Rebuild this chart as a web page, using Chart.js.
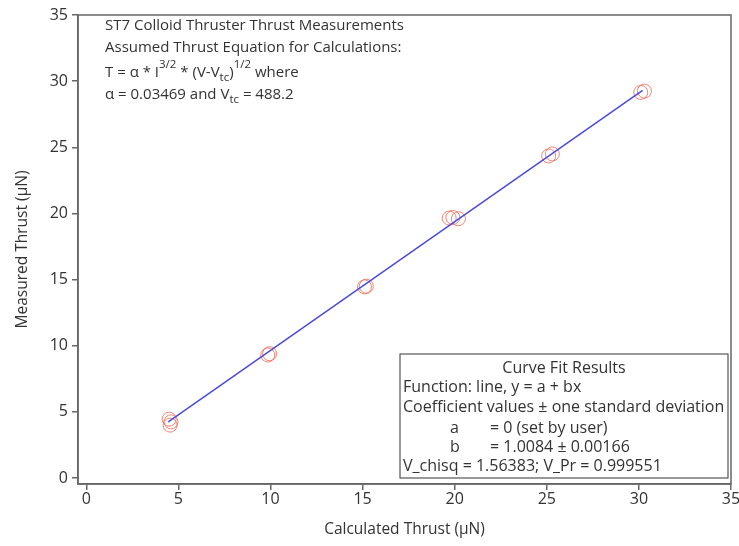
<!DOCTYPE html>
<html>
<head>
<meta charset="utf-8">
<script src="https://cdn.jsdelivr.net/npm/chart.js@4"></script>
<style>
  html, body { margin: 0; padding: 0; background: #fff; }
  #wrap { width: 739px; height: 546px; }
</style>
</head>
<body>
<div id="wrap"><canvas id="thrustChart"></canvas></div>
<script>
// measured points (calculated thrust, measured thrust) in uN
const calcThrust = [4.5, 4.55, 4.6, 9.85, 9.95, 15.1, 15.2, 19.7, 19.9, 20.2, 25.1, 25.3, 30.1, 30.3];
const measThrust = [4.45, 4.0, 4.25, 9.3, 9.4, 14.45, 14.5, 19.65, 19.7, 19.6, 24.35, 24.5, 29.15, 29.25];
// fitted line end points
const fitX = [4.45, 30.2];
const fitY = [4.25, 29.3];
const tickValues = [0, 5, 10, 15, 20, 25, 30, 35];

const FONT = "'Open Sans', 'Lucida Grande', sans-serif";
const textColor = "#333";
const axisColor = "#666";

const framePlugin = {
  id: "frame",
  afterDraw(chart) {
    const { ctx, chartArea: { top, bottom, left, right } } = chart;
    ctx.save();
    ctx.strokeStyle = axisColor;
    ctx.lineWidth = 1.5;
    ctx.strokeRect(left, top, right - left, bottom - top);
    ctx.restore();
  },
};

const notesPlugin = {
  id: "notes",
  afterDraw(chart) {
    const { ctx, chartArea: { top, left } } = chart;
    ctx.save();
    ctx.fillStyle = textColor;
    ctx.textBaseline = "alphabetic";
    ctx.textAlign = "left";

    // helper for text runs with super/subscripts
    function runs(x, y, parts) {
      parts.forEach((p) => {
        const size = p.small ? 11.5 : 15;
        ctx.font = `${size}px ${FONT}`;
        const dy = p.sup ? -9 : p.sub ? 4 : 0;
        ctx.fillText(p.t, x, y + dy);
        x += ctx.measureText(p.t).width;
      });
    }

    const x0 = left + 27;
    ctx.font = `15px ${FONT}`;
    ctx.fillText("ST7 Colloid Thruster Thrust Measurements", x0, top + 15);
    ctx.fillText("Assumed Thrust Equation for Calculations:", x0, top + 37);
    runs(x0, top + 62, [
      { t: "T = \u03b1 * I" },
      { t: "3/2", small: true, sup: true },
      { t: " * (V-V" },
      { t: "tc", small: true, sub: true },
      { t: ")" },
      { t: "1/2", small: true, sup: true },
      { t: " where" },
    ]);
    runs(x0, top + 84, [
      { t: "\u03b1 = 0.03469 and V" },
      { t: "tc", small: true, sub: true },
      { t: " = 488.2" },
    ]);

    // curve fit box
    const bx = 400, by = 354, bw = 328, bh = 124;
    ctx.fillStyle = "#fff";
    ctx.fillRect(bx, by, bw, bh);
    ctx.strokeStyle = "#555";
    ctx.lineWidth = 1.2;
    ctx.strokeRect(bx, by, bw, bh);
    ctx.fillStyle = textColor;
    ctx.font = `16px ${FONT}`;
    ctx.textAlign = "center";
    ctx.fillText("Curve Fit Results", bx + bw / 2, by + 19);
    ctx.textAlign = "left";
    ctx.fillText("Function: line, y = a + bx", bx + 3, by + 38);
    ctx.fillText("Coefficient values \u00b1 one standard deviation", bx + 3, by + 58);
    ctx.fillText("a", bx + 50, by + 79);
    ctx.fillText("= 0 (set by user)", bx + 90, by + 79);
    ctx.fillText("b", bx + 50, by + 98);
    ctx.fillText("= 1.0084 \u00b1 0.00166", bx + 90, by + 98);
    ctx.fillText("V_chisq = 1.56383; V_Pr = 0.999551", bx + 3, by + 117);
    ctx.restore();
  },
};

const pointData = calcThrust.map((x, i) => ({ x: x, y: measThrust[i] }));
const lineData = fitX.map((x, i) => ({ x: x, y: fitY[i] }));

function axis(titleText, isX) {
  return {
    type: "linear",
    min: -0.45,
    max: 35,
    afterBuildTicks(scale) {
      scale.ticks = tickValues.map((v) => ({ value: v }));
    },
    afterFit(scale) {
      if (isX) {
        scale.height = 62;
        scale.paddingRight = 0;
      } else {
        scale.width = 78;
        scale.paddingTop = 0;
      }
    },
    border: { display: true, color: axisColor, width: 1.5 },
    grid: {
      drawOnChartArea: false,
      drawTicks: true,
      tickLength: 6,
      color: axisColor,
      lineWidth: 1.5,
    },
    ticks: {
      color: textColor,
      padding: isX ? 0 : 4,
      font: { family: FONT, size: 16 },
    },
    title: {
      display: true,
      text: titleText,
      color: textColor,
      font: { family: FONT, size: 15.5 },
      padding: isX ? { top: 0, bottom: 7 } : { top: 13, bottom: 0 },
    },
  };
}

const ctx = document.getElementById("thrustChart").getContext("2d");
const thrustChart = new Chart(ctx, {
  type: "scatter",
  data: {
    datasets: [
      {
        type: "line",
        label: "fit",
        data: lineData,
        borderColor: "#4a4ae0",
        borderWidth: 1.5,
        pointRadius: 0,
        fill: false,
      },
      {
        label: "measured",
        data: pointData,
        pointStyle: "circle",
        pointRadius: 7,
        borderColor: "rgba(235, 105, 85, 0.8)",
        backgroundColor: "rgba(0,0,0,0)",
        borderWidth: 1,
      },
    ],
  },
  options: {
    responsive: true,
    maintainAspectRatio: false,
    animation: false,
    layout: { padding: { top: 15, right: 6, left: 0, bottom: 0 } },
    scales: {
      x: axis("Calculated Thrust (\u03bcN)", true),
      y: axis("Measured Thrust (\u03bcN)", false),
    },
    plugins: {
      legend: { display: false },
      tooltip: { enabled: false },
    },
  },
  plugins: [framePlugin, notesPlugin],
});
</script>
</body>
</html>
